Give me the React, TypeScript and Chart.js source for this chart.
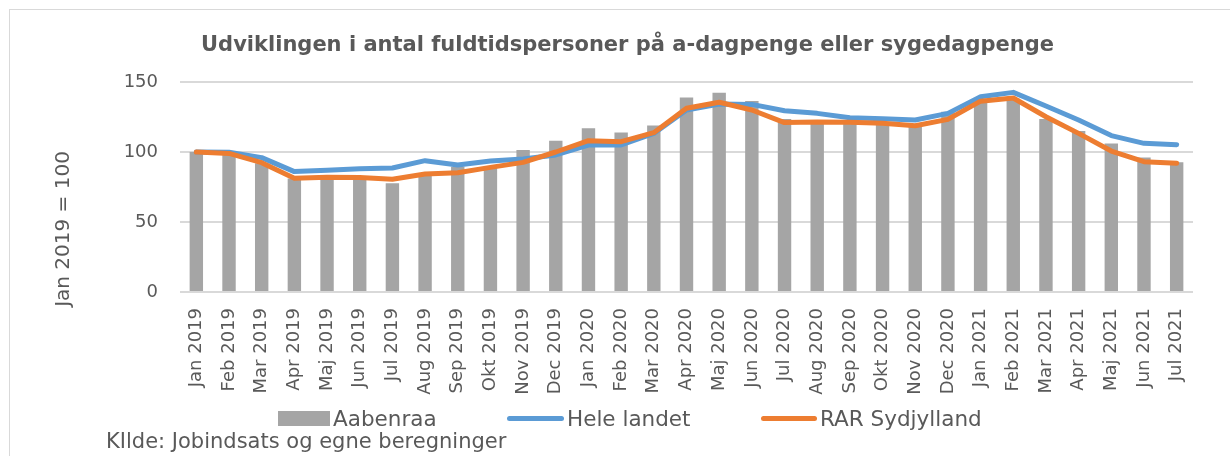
import React, { useEffect, useRef } from 'react';
import { Chart, registerables } from 'chart.js';

Chart.register(...registerables);

const labels = [
  'Jan 2019', 'Feb 2019', 'Mar 2019', 'Apr 2019', 'Maj 2019', 'Jun 2019', 'Jul 2019', 'Aug 2019',
  'Sep 2019', 'Okt 2019', 'Nov 2019', 'Dec 2019', 'Jan 2020', 'Feb 2020', 'Mar 2020', 'Apr 2020',
  'Maj 2020', 'Jun 2020', 'Jul 2020', 'Aug 2020', 'Sep 2020', 'Okt 2020', 'Nov 2020', 'Dec 2020',
  'Jan 2021', 'Feb 2021', 'Mar 2021', 'Apr 2021', 'Maj 2021', 'Jun 2021', 'Jul 2021',
];

const aabenraa = [
  100, 99, 92, 81, 81, 81, 77.6, 84, 89.5, 89, 101.4, 108, 117, 114, 119, 139,
  142.4, 136.4, 123.6, 121, 121, 120, 118, 128.8, 136, 138, 123.6, 115, 106, 96, 92.6,
];

const heleLandet = [
  100, 99.8, 96, 86, 87, 88, 88.6, 93.8, 90.7, 93.6, 95, 97.9, 105, 105, 113.3, 130,
  134.3, 134, 129.5, 127.6, 124.5, 123.8, 122.9, 127.6, 139.5, 142.6, 132.9, 122.9, 111.7, 106.2, 105.2,
];

const rarSydjylland = [
  100, 99, 92.4, 81.2, 81.9, 81.7, 80.5, 84.3, 85.2, 89, 92.6, 100, 108.1, 107.4, 113.8, 131.2,
  135.5, 130, 121, 121.4, 121.2, 120.5, 118.8, 123.3, 136.3, 138.6, 125.2, 113.3, 100.7, 93.1, 91.9,
];

const yTicks = [0, 50, 100, 150];

const seriesNames = ['Aabenraa', 'Hele landet', 'RAR Sydjylland'];
const seriesColors = ['#a5a5a5', '#5b9bd5', '#ed7d31'];

const titleText = 'Udviklingen i antal fuldtidspersoner på a-dagpenge eller sygedagpenge';
const yTitleText = 'Jan 2019 = 100';
const sourceText = 'KIlde: Jobindsats og egne beregninger';

const TEXT = '#595959';
const FONT = '"DejaVu Sans", Verdana, sans-serif';

// legend layout (pixel positions of the legend entries)
const legendSymbolLeft = [278, 507, 761];
const legendSymbolWidth = [52, 57, 56];
const legendTextLeft = [333, 567, 820];

const yTitlePlugin = {
  id: 'yTitleCustom',
  afterDraw(chart: any) {
    const ctx = chart.ctx;
    const ys = chart.scales.y;
    ctx.save();
    ctx.translate(64, (ys.top + ys.bottom) / 2 + 42);
    ctx.rotate(-Math.PI / 2);
    ctx.fillStyle = TEXT;
    ctx.font = `20px ${FONT}`;
    ctx.textAlign = 'center';
    ctx.textBaseline = 'middle';
    ctx.fillText(yTitleText, 0, 0);
    ctx.restore();
  },
};

export default function App() {
  const ref = useRef<HTMLCanvasElement | null>(null);

  useEffect(() => {
    if (!ref.current) return;
    const chart = new Chart(ref.current, {
      type: 'bar',
      data: {
        labels,
        datasets: [
          {
            type: 'bar',
            label: seriesNames[0],
            data: aabenraa,
            backgroundColor: seriesColors[0],
            borderWidth: 0,
            barPercentage: 0.41,
            categoryPercentage: 1,
            order: 3,
          } as any,
          {
            type: 'line',
            label: seriesNames[1],
            data: heleLandet,
            borderColor: seriesColors[1],
            backgroundColor: seriesColors[1],
            borderWidth: 5,
            pointRadius: 0,
            tension: 0,
            borderCapStyle: 'round',
            borderJoinStyle: 'round',
            order: 2,
          } as any,
          {
            type: 'line',
            label: seriesNames[2],
            data: rarSydjylland,
            borderColor: seriesColors[2],
            backgroundColor: seriesColors[2],
            borderWidth: 5,
            pointRadius: 0,
            tension: 0,
            borderCapStyle: 'round',
            borderJoinStyle: 'round',
            order: 1,
          } as any,
        ],
      },
      options: {
        responsive: false,
        animation: false,
        layout: { padding: { left: 62, right: 37, top: 0, bottom: 60 } },
        plugins: {
          title: {
            display: true,
            text: titleText,
            color: TEXT,
            font: { family: FONT, size: 21, weight: 'bold', lineHeight: 1.2 },
            padding: { top: 33, bottom: 23.8 },
          },
          legend: { display: false },
          tooltip: { enabled: false },
        },
        scales: {
          x: {
            grid: { display: false, drawTicks: false },
            border: { display: false },
            ticks: {
              color: TEXT,
              font: { family: FONT, size: 18 },
              minRotation: 90,
              maxRotation: 90,
              padding: 16,
              autoSkip: false,
            },
            afterFit: (s: any) => { s.height = 104; },
          },
          y: {
            min: 0,
            max: 150,
            afterBuildTicks: (s: any) => { s.ticks = yTicks.map((v) => ({ value: v })); },
            ticks: { padding: 22, color: TEXT, font: { family: FONT, size: 18 } },
            grid: { color: '#d9d9d9', lineWidth: 2, drawTicks: false },
            border: { display: false },
            afterFit: (s: any) => { s.width = 118; },
          },
        },
      } as any,
      plugins: [yTitlePlugin],
    });
    return () => chart.destroy();
  }, []);

  return (
    <div style={{ position: 'absolute', left: 0, top: 0, width: 1230, height: 456, overflow: 'hidden', background: '#fff' }}>
      <div style={{ position: 'absolute', left: 9, top: 9, width: 1250, height: 470, border: '1px solid #d9d9d9' }} />
      <canvas ref={ref} width={1230} height={456} style={{ position: 'absolute', left: 0, top: 0, width: 1230, height: 456 }} />
      {seriesNames.map((name, i) => (
        <React.Fragment key={name}>
          <div
            style={
              i === 0
                ? { position: 'absolute', left: legendSymbolLeft[i], top: 411, width: legendSymbolWidth[i], height: 15, background: seriesColors[i] }
                : { position: 'absolute', left: legendSymbolLeft[i], top: 416, width: legendSymbolWidth[i], height: 5, borderRadius: 2.5, background: seriesColors[i] }
            }
          />
          <div style={{ position: 'absolute', left: legendTextLeft[i], top: 408, fontFamily: FONT, fontSize: 21.5, lineHeight: '22px', color: TEXT, whiteSpace: 'nowrap' }}>
            {name}
          </div>
        </React.Fragment>
      ))}
      <div style={{ position: 'absolute', left: 106, top: 431, fontFamily: FONT, fontSize: 21, lineHeight: '21px', color: TEXT, whiteSpace: 'nowrap' }}>
        {sourceText}
      </div>
    </div>
  );
}
